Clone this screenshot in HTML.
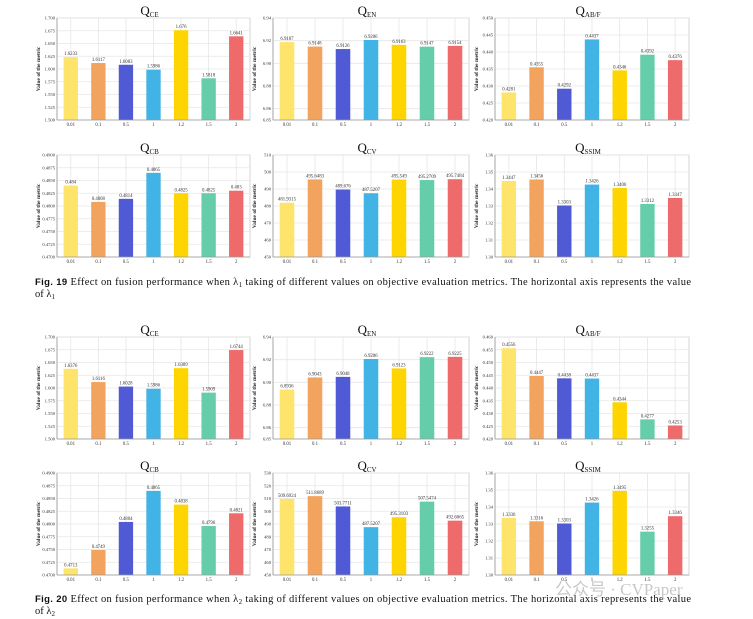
<!DOCTYPE html>
<html><head><meta charset="utf-8">
<style>
html,body{margin:0;padding:0;background:#fff;width:753px;height:619px;overflow:hidden}
svg{display:block}
text{font-family:"Liberation Serif",serif}
</style></head>
<body>
<svg id="fig" width="753" height="619" viewBox="0 0 753 619" xmlns="http://www.w3.org/2000/svg"></svg>
<script>
const categories = ["0.01","0.1","0.5","1","1.2","1.5","2"];
const barColors = ["#fee46a","#f2a35e","#4f5ad4","#41b3e5","#fed500","#66cdaa","#ef6b6b"];

// Fig 19 (lambda 1)
const l1_qce = [1.6233,1.6117,1.6083,1.5986,1.676,1.5818,1.6641];
const l1_qce_labels = ["1.6233","1.6117","1.6083","1.5986","1.676","1.5818","1.6641"];
const l1_qen = [6.9187,6.9148,6.9126,6.9206,6.9163,6.9147,6.9154];
const l1_qen_labels = ["6.9187","6.9148","6.9126","6.9206","6.9163","6.9147","6.9154"];
const l1_qab = [0.4281,0.4355,0.4292,0.4437,0.4346,0.4392,0.4376];
const l1_qab_labels = ["0.4281","0.4355","0.4292","0.4437","0.4346","0.4392","0.4376"];
const l1_qcb = [0.484,0.4808,0.4814,0.4865,0.4825,0.4825,0.483];
const l1_qcb_labels = ["0.484","0.4808","0.4814","0.4865","0.4825","0.4825","0.483"];
const l1_qcv = [481.9315,495.6483,489.676,487.5207,495.549,495.2709,495.7484];
const l1_qcv_labels = ["481.9315","495.6483","489.676","487.5207","495.549","495.2709","495.7484"];
const l1_qssim = [1.3447,1.3456,1.3303,1.3426,1.3406,1.3312,1.3347];
const l1_qssim_labels = ["1.3447","1.3456","1.3303","1.3426","1.3406","1.3312","1.3347"];

// Fig 20 (lambda 2)
const l2_qce = [1.6376,1.6116,1.6028,1.5986,1.6389,1.5909,1.6744];
const l2_qce_labels = ["1.6376","1.6116","1.6028","1.5986","1.6389","1.5909","1.6744"];
const l2_qen = [6.8936,6.9043,6.9048,6.9206,6.9123,6.9222,6.9225];
const l2_qen_labels = ["6.8936","6.9043","6.9048","6.9206","6.9123","6.9222","6.9225"];
const l2_qab = [0.4556,0.4447,0.4438,0.4437,0.4344,0.4277,0.4253];
const l2_qab_labels = ["0.4556","0.4447","0.4438","0.4437","0.4344","0.4277","0.4253"];
const l2_qcb = [0.4713,0.4749,0.4804,0.4865,0.4838,0.4796,0.4821];
const l2_qcb_labels = ["0.4713","0.4749","0.4804","0.4865","0.4838","0.4796","0.4821"];
const l2_qcv = [509.6924,511.8689,503.7711,487.5207,495.3103,507.5474,492.6065];
const l2_qcv_labels = ["509.6924","511.8689","503.7711","487.5207","495.3103","507.5474","492.6065"];
const l2_qssim = [1.3336,1.3316,1.3303,1.3426,1.3495,1.3255,1.3346];
const l2_qssim_labels = ["1.3336","1.3316","1.3303","1.3426","1.3495","1.3255","1.3346"];

// y-axis tick labels
const ticks_qce = ["1.500","1.525","1.550","1.575","1.600","1.625","1.650","1.675","1.700"];
const ticks_qen = ["6.85","6.86","6.88","6.90","6.92","6.94"];
const ticks_qab1 = ["0.420","0.425","0.430","0.435","0.440","0.445","0.450"];
const ticks_qab2 = ["0.420","0.425","0.430","0.435","0.440","0.445","0.450","0.455","0.460"];
const ticks_qcb = ["0.4700","0.4725","0.4750","0.4775","0.4800","0.4825","0.4850","0.4875","0.4900"];
const ticks_qcv1 = ["450","460","470","480","490","500","510"];
const ticks_qcv2 = ["450","460","470","480","490","500","510","520","530"];
const ticks_qssim = ["1.30","1.31","1.32","1.33","1.34","1.35","1.36"];

const NS = "http://www.w3.org/2000/svg";
const svg = document.getElementById('fig');
function mk(tag, attrs, parent){
  const e = document.createElementNS(NS, tag);
  for (const k in attrs) e.setAttribute(k, attrs[k]);
  (parent||svg).appendChild(e);
  return e;
}

function chart(name, title, sub, x0, y0, w, h, vals, labels, ticks, ymin, ymax){
  const g = mk('g', {});
  
  
  const ys = v => y0 + h - (v - ymin) / (ymax - ymin) * h;
  const band = w / categories.length;
  const xs = i => x0 + band * (i + 0.5);
  // frame bg
  mk('rect', {x:x0, y:y0, width:w, height:h, fill:'#fff', stroke:'#d4d4d4', 'stroke-width':1}, g);
  // grid
  ticks.forEach(t => {
    const v = parseFloat(t), y = ys(v);
    const gl = mk('line', {x1:x0, x2:x0+w, y1:y, y2:y, stroke:'#e6e6e6', 'stroke-width':0.8}, g);
    
    
    const tl = mk('text', {x:x0-2, y:y+1.5, 'font-size':4.6, 'text-anchor':'end', fill:'#333'}, g);
    tl.textContent = t;
    
    
  });
  categories.forEach((c, i) => {
    mk('line', {x1:xs(i), x2:xs(i), y1:y0, y2:y0+h, stroke:'#e6e6e6', 'stroke-width':0.8}, g);
  });
  // bars
  const bw = band * 0.52;
  vals.forEach((v, i) => {
    const y = ys(v);
    const b = mk('rect', {x:xs(i)-bw/2, y:y, width:bw, height:y0+h-y, fill:barColors[i]}, g);
    
    
    const vl = mk('text', {x:xs(i), y:y-2, 'font-size':4.8, 'text-anchor':'middle', fill:'#333'}, g);
    vl.textContent = labels[i];
    
    
    const xl = mk('text', {x:xs(i), y:y0+h+6, 'font-size':4.8, 'text-anchor':'middle', fill:'#333'}, g);
    xl.textContent = categories[i];
    
    
  });
  // axes
  mk('line', {x1:x0, x2:x0, y1:y0, y2:y0+h, stroke:'#999', 'stroke-width':0.8}, g);
  mk('line', {x1:x0, x2:x0+w, y1:y0+h, y2:y0+h, stroke:'#999', 'stroke-width':0.8}, g);
  // y title
  const yt = mk('text', {x:0, y:0, 'font-size':5.5, 'font-weight':'bold', 'text-anchor':'middle', fill:'#222',
    transform:'translate(' + (x0-17) + ',' + (y0+h/2) + ') rotate(-90)'}, g);
  yt.textContent = 'Value of the metric';
  
  
  // title
  const tt = mk('text', {x:x0+w/2-4, y:y0-3, 'font-size':13, 'text-anchor':'middle', fill:'#111'}, g);
  
  
  const t1 = mk('tspan', {}, tt); t1.textContent = title;
  const t2 = mk('tspan', {'font-size':7, dy:2}, tt); t2.textContent = sub;
}

const colX = [57, 273, 495], colW = [193, 196, 194];
const H = 102;
// Fig 19
chart('l1-qce','Q','CE', colX[0],18,colW[0],H, l1_qce,l1_qce_labels,ticks_qce,1.5,1.7);
chart('l1-qen','Q','EN', colX[1],18,colW[1],H, l1_qen,l1_qen_labels,ticks_qen,6.85,6.94);
chart('l1-qab','Q','AB/F', colX[2],18,colW[2],H, l1_qab,l1_qab_labels,ticks_qab1,0.42,0.45);
chart('l1-qcb','Q','CB', colX[0],155,colW[0],H, l1_qcb,l1_qcb_labels,ticks_qcb,0.47,0.49);
chart('l1-qcv','Q','CV', colX[1],155,colW[1],H, l1_qcv,l1_qcv_labels,ticks_qcv1,450,510);
chart('l1-qssim','Q','SSIM', colX[2],155,colW[2],H, l1_qssim,l1_qssim_labels,ticks_qssim,1.30,1.36);
// Fig 20
chart('l2-qce','Q','CE', colX[0],337,colW[0],H, l2_qce,l2_qce_labels,ticks_qce,1.5,1.7);
chart('l2-qen','Q','EN', colX[1],337,colW[1],H, l2_qen,l2_qen_labels,ticks_qen,6.85,6.94);
chart('l2-qab','Q','AB/F', colX[2],337,colW[2],H, l2_qab,l2_qab_labels,ticks_qab2,0.42,0.46);
chart('l2-qcb','Q','CB', colX[0],473,colW[0],H, l2_qcb,l2_qcb_labels,ticks_qcb,0.47,0.49);
chart('l2-qcv','Q','CV', colX[1],473,colW[1],H, l2_qcv,l2_qcv_labels,ticks_qcv2,450,530);
chart('l2-qssim','Q','SSIM', colX[2],473,colW[2],H, l2_qssim,l2_qssim_labels,ticks_qssim,1.30,1.36);

function caption(name, num, sub, y){
  const t = mk('text', {x:35, y:y, 'font-size':10.5, fill:'#111', textLength:656, lengthAdjust:'spacing'});
  
  
  const a = mk('tspan', {'font-family':'Liberation Sans, sans-serif', 'font-weight':'bold', 'font-size':9.5}, t);
  a.textContent = 'Fig. ' + num + '  ';
  const b = mk('tspan', {}, t);
  b.textContent = ' Effect on fusion performance when \u03bb';
  const c = mk('tspan', {'font-size':7, dy:2}, t); c.textContent = sub;
  const d = mk('tspan', {dy:-2}, t);
  d.textContent = ' taking of different values on objective evaluation metrics. The horizontal axis represents the value';
  const t2 = mk('text', {x:35, y:y+12, 'font-size':10.5, fill:'#111'});
  
  
  const e = mk('tspan', {}, t2); e.textContent = 'of \u03bb';
  const f = mk('tspan', {'font-size':7, dy:2}, t2); f.textContent = sub;
}
caption('fig19-caption', '19', '1', 285);
caption('fig20-caption', '20', '2', 602);

const wm = mk('text', {x:555, y:595, 'font-size':17, fill:'#bbb', 'font-family':'Liberation Sans, Noto Sans CJK SC, sans-serif', opacity:0.8});


wm.textContent = '公众号 · CVPaper';
</script>
</body></html>
